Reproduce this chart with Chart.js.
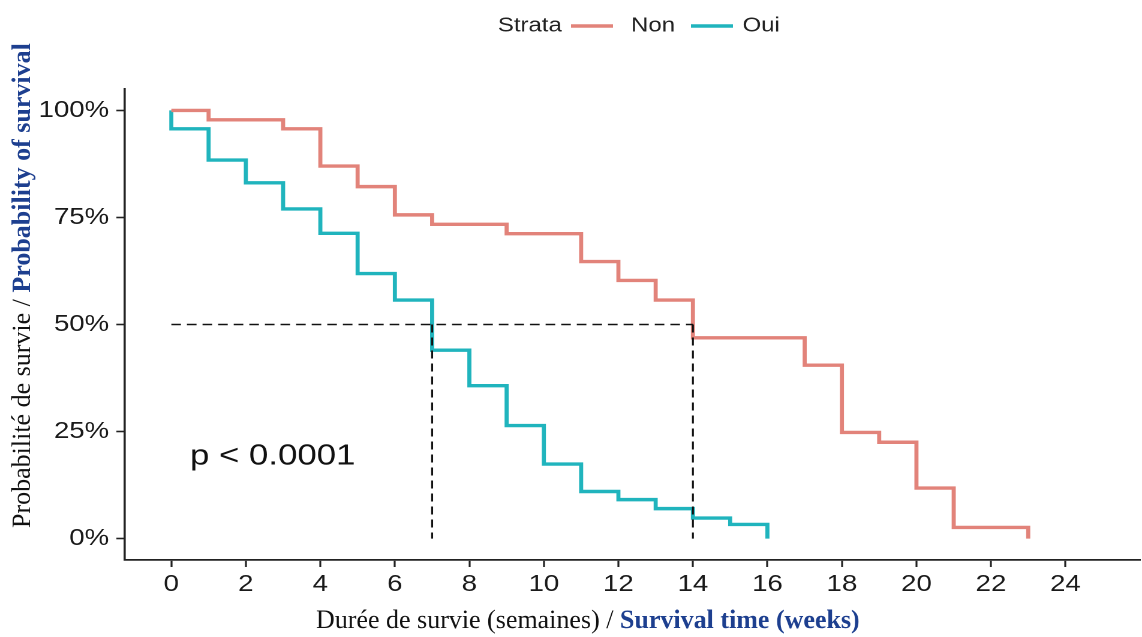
<!DOCTYPE html>
<html>
<head>
<meta charset="utf-8">
<script src="https://cdn.jsdelivr.net/npm/chart.js@4.4.0/dist/chart.umd.min.js"></script>
<style>
    html, body { margin: 0; padding: 0; background: #fff; overflow: hidden; }
    /* l'image d'origine est étirée en largeur, on fait pareil */
    #wrap { position: absolute; left: 0; top: 0; width: 952px; height: 637px; transform: scaleX(1.19958); transform-origin: 0 0; }
</style>
</head>
<body>
<div id="wrap"><canvas id="kmChart"></canvas></div>
<script>
const weeksNon = [0, 1, 3, 4, 5, 6, 7, 9, 11, 12, 13, 14, 17, 18, 19, 20, 21, 23];
const survNon  = [1, 0.978, 0.957, 0.870, 0.822, 0.756, 0.734, 0.712, 0.647, 0.603, 0.557, 0.469, 0.405, 0.248, 0.225, 0.118, 0.026, 0];
const weeksOui = [0, 0, 1, 2, 3, 4, 5, 6, 7, 8, 9, 10, 11, 12, 13, 14, 15, 16];
const survOui  = [1, 0.957, 0.884, 0.831, 0.770, 0.713, 0.619, 0.557, 0.440, 0.357, 0.264, 0.174, 0.110, 0.091, 0.070, 0.048, 0.033, 0];
const medianNon = 14;
const medianOui = 7;
const xTicks = [0, 2, 4, 6, 8, 10, 12, 14, 16, 18, 20, 22, 24];
const yTicks = [0, 0.25, 0.5, 0.75, 1];
const strata = ['Non', 'Oui'];
const pValueText = 'p < 0.0001';

const STRETCH = 1142 / 952;
const colorNon = '#E2837A';
const colorOui = '#20B4BD';

function toPoints(xs, ys) {
    return xs.map((x, i) => ({ x: x, y: ys[i] }));
}

function dashedSet(points) {
    return {
        data: points,
        borderColor: '#111',
        borderWidth: 1.6,
        borderDash: [8, 5],
        pointRadius: 0,
        stepped: false,
        order: 0
    };
}

// légende, p-value et titres des axes
const annotations = {
    id: 'annotations',
    afterDraw(chart) {
        const ctx = chart.ctx;
        const xs = chart.scales.x;
        const ys = chart.scales.y;

        // p-value
        ctx.save();
        ctx.font = '29px "Liberation Sans", Arial, sans-serif';
        ctx.fillStyle = '#111';
        ctx.textBaseline = 'alphabetic';
        ctx.fillText(pValueText, xs.getPixelForValue(0.5), ys.getPixelForValue(0.173));
        ctx.restore();

        // légende en haut
        ctx.save();
        ctx.font = '20px "Liberation Sans", Arial, sans-serif';
        ctx.fillStyle = '#222';
        ctx.textBaseline = 'middle';
        const ly = 26;
        ctx.fillText('Strata', 415, ly);
        const keyX = [476, 576];
        const txtX = [526, 619];
        const cols = [colorNon, colorOui];
        strata.forEach((name, i) => {
            ctx.strokeStyle = cols[i];
            ctx.lineWidth = 3.5;
            ctx.beginPath();
            ctx.moveTo(keyX[i], ly);
            ctx.lineTo(keyX[i] + 35, ly);
            ctx.stroke();
            ctx.fillText(name, txtX[i], ly);
        });
        ctx.restore();

        // titres des axes (pas étirés dans l'image)
        ctx.save();
        ctx.scale(1 / STRETCH, 1);
        const regular = '26px "Liberation Serif", "Times New Roman", serif';
        const bold = 'bold 26px "Liberation Serif", "Times New Roman", serif';
        ctx.textBaseline = 'alphabetic';

        let part1 = 'Durée de survie (semaines) / ';
        ctx.font = regular;
        ctx.fillStyle = '#111';
        ctx.fillText(part1, 316, 628);
        let w1 = ctx.measureText(part1).width;
        ctx.font = bold;
        ctx.fillStyle = '#1d3f8f';
        ctx.fillText('Survival time (weeks)', 316 + w1, 628);

        ctx.translate(30, 528);
        ctx.rotate(-Math.PI / 2);
        part1 = 'Probabilité de survie / ';
        ctx.font = regular;
        ctx.fillStyle = '#111';
        ctx.fillText(part1, 0, 0);
        w1 = ctx.measureText(part1).width;
        ctx.font = bold;
        ctx.fillStyle = '#1d3f8f';
        ctx.fillText('Probability of survival', w1, 0);
        ctx.restore();
    }
};

document.addEventListener('DOMContentLoaded', () => {
    const ctx = document.getElementById('kmChart').getContext('2d');
    new Chart(ctx, {
        type: 'line',
        data: {
            datasets: [
                dashedSet([{ x: 0, y: 0.5 }, { x: medianNon, y: 0.5 }]),
                dashedSet([{ x: medianOui, y: 0.5 }, { x: medianOui, y: 0 }]),
                dashedSet([{ x: medianNon, y: 0.5 }, { x: medianNon, y: 0 }]),
                {
                    label: strata[0],
                    data: toPoints(weeksNon, survNon),
                    borderColor: colorNon,
                    borderWidth: 3.4,
                    stepped: 'before',
                    pointRadius: 0,
                    order: 1
                },
                {
                    label: strata[1],
                    data: toPoints(weeksOui, survOui),
                    borderColor: colorOui,
                    borderWidth: 3.4,
                    stepped: 'before',
                    pointRadius: 0,
                    order: 1
                }
            ]
        },
        options: {
            responsive: true,
            maintainAspectRatio: false,
            animation: false,
            devicePixelRatio: 2,
            layout: { padding: { top: 89, left: 0, right: 0, bottom: 0 } },
            plugins: { legend: { display: false }, tooltip: { enabled: false } },
            scales: {
                x: {
                    type: 'linear',
                    min: -1.25,
                    max: 26,
                    afterBuildTicks: (scale) => { scale.ticks = xTicks.map(v => ({ value: v })); },
                    afterFit: (scale) => { scale.height = 77; },
                    grid: { drawOnChartArea: false, drawTicks: true, tickLength: 7, tickWidth: 1.6, color: '#222' },
                    border: { display: true, color: '#222', width: 1.8 },
                    ticks: {
                        font: { family: '"Liberation Sans", Arial, sans-serif', size: 23 },
                        color: '#1a1a1a',
                        padding: 4,
                        maxRotation: 0,
                        autoSkip: false
                    }
                },
                y: {
                    min: -0.05,
                    max: 1.05,
                    afterBuildTicks: (scale) => { scale.ticks = yTicks.map(v => ({ value: v })); },
                    afterFit: (scale) => { scale.width = 104; },
                    grid: { drawOnChartArea: false, drawTicks: true, tickLength: 7, tickWidth: 1.6, color: '#222' },
                    border: { display: true, color: '#222', width: 1.8 },
                    ticks: {
                        font: { family: '"Liberation Sans", Arial, sans-serif', size: 23 },
                        color: '#1a1a1a',
                        padding: 6,
                        callback: (v) => Math.round(v * 100) + '%'
                    }
                }
            }
        },
        plugins: [annotations]
    });
});
</script>
</body>
</html>
